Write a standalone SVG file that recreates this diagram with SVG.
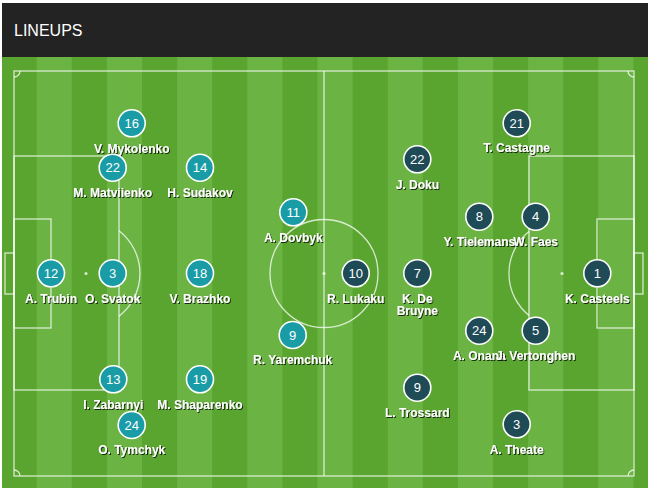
<svg xmlns="http://www.w3.org/2000/svg" width="650" height="491" viewBox="0 0 650 491">
<defs>
<style>
.hdr{fill:#232323}
.title{font-family:"Liberation Sans",Arial,sans-serif;font-size:16px;fill:#fff}
.dark{fill:#5aa52f}
.light{fill:#6bb444}
.ln{fill:none;stroke:#fff;stroke-opacity:0.75;stroke-width:1.3}
.spot{fill:#fff;fill-opacity:0.75}
.ukr circle{fill:#1a9ca6;stroke:#fff;stroke-width:1.6}
.bel circle{fill:#1f4b57;stroke:#fff;stroke-width:1.6}
.num{font-family:"Liberation Sans",Arial,sans-serif;font-size:13px;fill:#fff;text-anchor:middle}
.name{font-family:"Liberation Sans",Arial,sans-serif;font-size:12px;font-weight:bold;fill:#fff;text-anchor:middle;filter:url(#sh)}
</style>
<filter id="sh" x="-10%" y="-30%" width="120%" height="160%">
<feDropShadow dx="1" dy="1" stdDeviation="0.7" flood-color="#000" flood-opacity="0.75"/>
</filter>
</defs>
<rect x="0" y="0" width="650" height="491" fill="#fff"/>
<g id="header">
<rect class="hdr" x="2" y="3" width="646" height="54"/>
<text class="title" x="14" y="36">LINEUPS</text>
</g>
<g id="pitch">
<rect class="dark" x="2" y="57" width="646" height="431"/>
<rect class="light" x="36.7" y="57" width="35.1" height="431"/>
<rect class="light" x="106.9" y="57" width="35.1" height="431"/>
<rect class="light" x="177.1" y="57" width="35.1" height="431"/>
<rect class="light" x="247.3" y="57" width="35.1" height="431"/>
<rect class="light" x="317.5" y="57" width="35.1" height="431"/>
<rect class="light" x="387.7" y="57" width="35.1" height="431"/>
<rect class="light" x="457.9" y="57" width="35.1" height="431"/>
<rect class="light" x="528.1" y="57" width="35.1" height="431"/>
<rect class="light" x="598.3" y="57" width="35.1" height="431"/>
<rect class="ln" x="14" y="71" width="620" height="405"/>
<line class="ln" x1="324" y1="71" x2="324" y2="476"/>
<circle class="ln" cx="324" cy="273.5" r="54"/>
<circle class="spot" cx="324" cy="273.5" r="1.6"/>
<rect class="ln" x="14" y="156" width="105" height="234"/>
<rect class="ln" x="14" y="219" width="37" height="109"/>
<rect class="ln" x="5" y="253" width="9" height="41"/>
<circle class="spot" cx="86" cy="273.5" r="1.6"/>
<path class="ln" d="M119 230.8 A54 54 0 0 1 119 316.2"/>
<rect class="ln" x="529" y="156" width="105" height="234"/>
<rect class="ln" x="597" y="219" width="37" height="109"/>
<rect class="ln" x="634" y="253" width="9" height="41"/>
<circle class="spot" cx="562" cy="273.5" r="1.6"/>
<path class="ln" d="M529 231.5 A54 54 0 0 0 529 315.5"/>
<path class="ln" d="M14 77 A6 6 0 0 0 20 71"/>
<path class="ln" d="M628 71 A6 6 0 0 0 634 77"/>
<path class="ln" d="M20 476 A6 6 0 0 0 14 470"/>
<path class="ln" d="M634 470 A6 6 0 0 0 628 476"/>
</g>
<g id="connectors"></g>
<g class="ukr">
<g id="p-ukr-16"><circle cx="131.7" cy="123.3" r="13.5"/><text class="num" x="131.7" y="128">16</text><text class="name" x="131.7" y="152.5">V. Mykolenko</text></g>
<g id="p-ukr-22"><circle cx="112.7" cy="167.7" r="13.5"/><text class="num" x="112.7" y="172.4">22</text><text class="name" x="112.7" y="197">M. Matviienko</text></g>
<g id="p-ukr-14"><circle cx="200" cy="167.7" r="13.5"/><text class="num" x="200" y="172.4">14</text><text class="name" x="200" y="197">H. Sudakov</text></g>
<g id="p-ukr-11"><circle cx="293.3" cy="212.3" r="13.5"/><text class="num" x="293.3" y="217">11</text><text class="name" x="293.3" y="242">A. Dovbyk</text></g>
<g id="p-ukr-12"><circle cx="51" cy="273.3" r="13.5"/><text class="num" x="51" y="278">12</text><text class="name" x="51" y="303.3">A. Trubin</text></g>
<g id="p-ukr-3"><circle cx="112.7" cy="273.3" r="13.5"/><text class="num" x="112.7" y="278">3</text><text class="name" x="112.7" y="303.3">O. Svatok</text></g>
<g id="p-ukr-18"><circle cx="200" cy="273.3" r="13.5"/><text class="num" x="200" y="278">18</text><text class="name" x="200" y="303.3">V. Brazhko</text></g>
<g id="p-ukr-9"><circle cx="292.7" cy="335" r="13.5"/><text class="num" x="292.7" y="339.7">9</text><text class="name" x="292.7" y="364.3">R. Yaremchuk</text></g>
<g id="p-ukr-13"><circle cx="113.3" cy="379.3" r="13.5"/><text class="num" x="113.3" y="384">13</text><text class="name" x="113.3" y="409.3">I. Zabarnyi</text></g>
<g id="p-ukr-19"><circle cx="200" cy="379.3" r="13.5"/><text class="num" x="200" y="384">19</text><text class="name" x="200" y="409.3">M. Shaparenko</text></g>
<g id="p-ukr-24"><circle cx="131.7" cy="425" r="13.5"/><text class="num" x="131.7" y="429.7">24</text><text class="name" x="131.7" y="454.3">O. Tymchyk</text></g>
</g>
<g class="bel">
<g id="p-bel-21"><circle cx="516.7" cy="123.3" r="13.5"/><text class="num" x="516.7" y="128">21</text><text class="name" x="516.7" y="152">T. Castagne</text></g>
<g id="p-bel-22"><circle cx="417.3" cy="159.3" r="13.5"/><text class="num" x="417.3" y="164">22</text><text class="name" x="417.3" y="189.3">J. Doku</text></g>
<g id="p-bel-8"><circle cx="479.3" cy="216.7" r="13.5"/><text class="num" x="479.3" y="221.4">8</text><text class="name" x="479.3" y="246">Y. Tielemans</text></g>
<g id="p-bel-4"><circle cx="535.7" cy="216.7" r="13.5"/><text class="num" x="535.7" y="221.4">4</text><text class="name" x="535.7" y="246">W. Faes</text></g>
<g id="p-bel-10"><circle cx="355.7" cy="273.3" r="13.5"/><text class="num" x="355.7" y="278">10</text><text class="name" x="355.7" y="303.3">R. Lukaku</text></g>
<g id="p-bel-7"><circle cx="417.3" cy="273.3" r="13.5"/><text class="num" x="417.3" y="278">7</text><text class="name" x="417.3" y="303.3">K. De</text><text class="name" x="417.3" y="315">Bruyne</text></g>
<g id="p-bel-1"><circle cx="597.3" cy="273.3" r="13.5"/><text class="num" x="597.3" y="278">1</text><text class="name" x="597.3" y="303.3">K. Casteels</text></g>
<g id="p-bel-24"><circle cx="479.3" cy="330.7" r="13.5"/><text class="num" x="479.3" y="335.4">24</text><text class="name" x="479.3" y="360.3">A. Onana</text></g>
<g id="p-bel-5"><circle cx="535.7" cy="330.7" r="13.5"/><text class="num" x="535.7" y="335.4">5</text><text class="name" x="535.7" y="360.3">J. Vertonghen</text></g>
<g id="p-bel-9"><circle cx="417.3" cy="387.7" r="13.5"/><text class="num" x="417.3" y="392.4">9</text><text class="name" x="417.3" y="417">L. Trossard</text></g>
<g id="p-bel-3"><circle cx="516.7" cy="424.3" r="13.5"/><text class="num" x="516.7" y="429">3</text><text class="name" x="516.7" y="453.6">A. Theate</text></g>
</g>
</svg>
